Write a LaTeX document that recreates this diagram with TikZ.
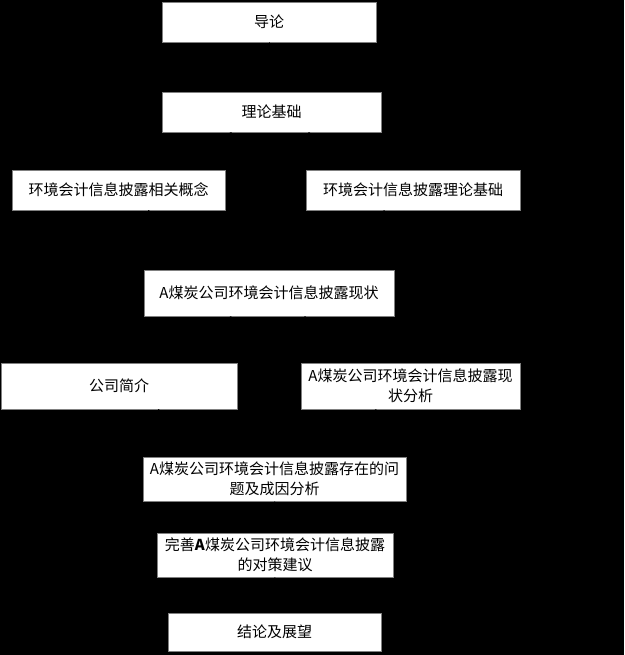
\documentclass[tikz,border=0pt]{standalone}
\usepackage{fontspec}
\newfontfamily\cjk{Noto Sans CJK SC}
\usetikzlibrary{arrows.meta}
\begin{document}
\begin{tikzpicture}[x=1pt,y=-1pt,
  box/.style={draw=gray,fill=white,line width=0.8pt,inner sep=0pt,align=center,
    font=\cjk\fontsize{15}{20}\selectfont},
  conn/.style={draw=black,line width=0.8pt,-{Stealth[length=6pt]}}]
\fill[black] (0,0) rectangle (624,655);
\useasboundingbox (0,0) rectangle (624,655);
\node[box,minimum width=214pt,minimum height=40pt] (intro) at (269,22) {导论};
\node[box,minimum width=219pt,minimum height=40pt] (theory) at (271.5,112) {理论基础};
\node[box,minimum width=213pt,minimum height=40pt] (concept) at (118.5,190) {环境会计信息披露相关概念};
\node[box,minimum width=214pt,minimum height=40pt] (basis) at (413,190) {环境会计信息披露理论基础};
\node[box,minimum width=250pt,minimum height=46pt] (status) at (269,293) {A煤炭公司环境会计信息披露现状};
\node[box,minimum width=236pt,minimum height=46pt] (profile) at (119,386) {公司简介};
\node[box,minimum width=219pt,minimum height=46pt] (analysis) at (410.5,386) {A煤炭公司环境会计信息披露现\\状分析};
\node[box,minimum width=263pt,minimum height=44pt] (problem) at (274.5,479) {A煤炭公司环境会计信息披露存在的问\\题及成因分析};
\node[box,minimum width=236pt,minimum height=44pt] (measure) at (275,555) {完善\textbf{A}煤炭公司环境会计信息披露\\的对策建议};
\node[box,minimum width=213pt,minimum height=38pt] (concl) at (274.5,632) {结论及展望};
\draw[conn] (intro) -- (theory);
\draw[conn] (theory) -- (concept);
\draw[conn] (theory) -- (basis);
\draw[conn] (concept) -- (status);
\draw[conn] (basis) -- (status);
\draw[conn] (status) -- (profile);
\draw[conn] (status) -- (analysis);
\draw[conn] (profile) -- (problem);
\draw[conn] (analysis) -- (problem);
\draw[conn] (problem) -- (measure);
\draw[conn] (measure) -- (concl);
\end{tikzpicture}
\end{document}
